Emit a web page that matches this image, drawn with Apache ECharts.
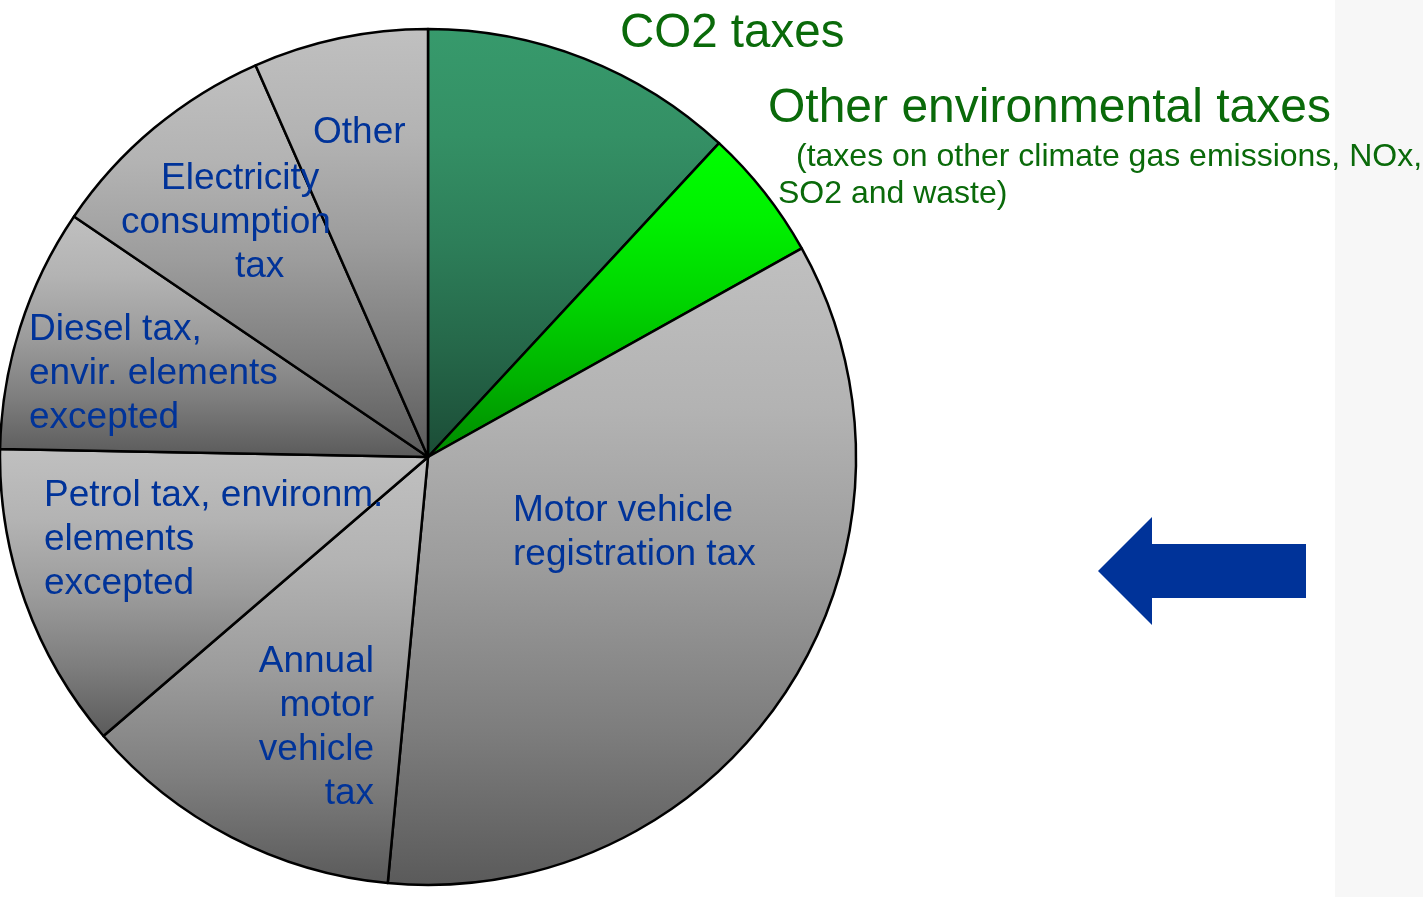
<!DOCTYPE html>
<html>
<head>
<meta charset="utf-8">
<title>Environmental and vehicle taxes</title>
<script src="https://cdn.jsdelivr.net/npm/echarts@6/dist/echarts.min.js"></script>
<style>
  html, body { margin: 0; padding: 0; background: #ffffff; }
  #chart { width: 1423px; height: 897px; }
</style>
</head>
<body>
<div id="chart"></div>
<script>
// Tax categories, clockwise from twelve o'clock
const categories = [
  'CO2 taxes',
  'Other environmental taxes',
  'Motor vehicle registration tax',
  'Annual motor vehicle tax',
  'Petrol tax, environm. elements excepted',
  'Diesel tax, envir. elements excepted',
  'Electricity consumption tax',
  'Other'
];
// Share of total revenue, per cent
const shares = [11.9, 5.0, 34.6, 12.2, 11.6, 9.2, 8.9, 6.6];
// Text shown for each slice
const labelTexts = [
  '{t|CO2 taxes}',
  '{t|Other environmental taxes}\n{s1|(taxes on other climate gas emissions, NOx,}\n{s2|SO2 and waste)}',
  'Motor vehicle\nregistration tax',
  'Annual\nmotor\nvehicle\ntax',
  'Petrol tax, environm.\nelements\nexcepted',
  'Diesel tax,\nenvir. elements\nexcepted',
  '{a|Electricity}\n{b|consumption}\n{c|tax}',
  'Other'
];

const FONT = '"Liberation Sans", Arial, Helvetica, sans-serif';
const BLUE = '#003399';
const GREEN_TEXT = '#0a6a0a';

// Label anchors (pixels) and alignment
const labelPlacement = [
  { x: 620, y: 34,  align: 'left',  v: 'middle' },
  { x: 768, y: 79,  align: 'left',  v: 'top' },
  { x: 513, y: 533, align: 'left',  v: 'middle' },
  { x: 374, y: 728, align: 'right', v: 'middle' },
  { x: 44,  y: 540, align: 'left',  v: 'middle' },
  { x: 29,  y: 374, align: 'left',  v: 'middle' },
  { x: 121, y: 223, align: 'left',  v: 'middle' },
  { x: 313, y: 133, align: 'left',  v: 'middle' }
];

function vgrad(stops) {
  return {
    type: 'linear', x: 0, y: 0, x2: 0, y2: 1,
    colorStops: stops.map(function (s) { return { offset: s[0], color: s[1] }; })
  };
}
const grayFill = [[0, '#c0c0c0'], [0.25, '#b3b3b3'], [0.5, '#9c9c9c'], [0.75, '#7e7e7e'], [1, '#5a5a5a']];
const co2Fill = [[0, '#379a6c'], [0.25, '#349065'], [0.5, '#2d7e59'], [0.75, '#256749'], [1, '#1b4c36']];
const envFill = [[0, '#00ff00'], [0.25, '#00f000'], [0.5, '#00d500'], [0.75, '#00b200'], [1, '#008800']];
const fills = [co2Fill, envFill, grayFill, grayFill, grayFill, grayFill, grayFill, grayFill];

const bodyText = { fontFamily: FONT, fontSize: 37, lineHeight: 44, color: BLUE };

const pieData = categories.map(function (name, i) {
  const label = {
    show: true,
    position: 'inside',
    formatter: labelTexts[i],
    fontFamily: FONT,
    fontSize: 37,
    lineHeight: 44,
    color: BLUE
  };
  if (i === 0) {
    label.rich = { t: { fontFamily: FONT, fontSize: 47.5, lineHeight: 56, color: GREEN_TEXT } };
  } else if (i === 1) {
    label.rich = {
      t: { fontFamily: FONT, fontSize: 48, lineHeight: 60, color: GREEN_TEXT },
      s1: { fontFamily: FONT, fontSize: 32, lineHeight: 37, color: GREEN_TEXT, padding: [0, 0, 0, 28] },
      s2: { fontFamily: FONT, fontSize: 32, lineHeight: 37, color: GREEN_TEXT, padding: [0, 0, 0, 10] }
    };
  } else if (i === 6) {
    label.rich = {
      a: Object.assign({ padding: [0, 0, 0, 40] }, bodyText),
      b: Object.assign({}, bodyText),
      c: Object.assign({ padding: [0, 0, 0, 114] }, bodyText)
    };
  }
  return {
    name: name,
    value: shares[i],
    itemStyle: { color: vgrad(fills[i]) },
    label: label
  };
});

const chart = echarts.init(document.getElementById('chart'), null, { renderer: 'canvas' });

chart.setOption({
  backgroundColor: '#ffffff',
  animation: false,
  graphic: [
    {
      type: 'rect',
      z: -10,
      shape: { x: 1335, y: 0, width: 88, height: 897 },
      style: { fill: '#f7f7f7' },
      silent: true
    },
    {
      type: 'polygon',
      shape: {
        points: [[1098, 571], [1152, 517], [1152, 544], [1306, 544], [1306, 598], [1152, 598], [1152, 625]]
      },
      style: { fill: '#003399' },
      silent: true
    }
  ],
  series: [
    {
      type: 'pie',
      center: [428, 457],
      radius: [0, 428],
      startAngle: 90,
      clockwise: true,
      avoidLabelOverlap: false,
      silent: true,
      emphasis: { disabled: true },
      itemStyle: { borderColor: '#000000', borderWidth: 2.5 },
      labelLine: { show: false },
      labelLayout: function (params) {
        const p = labelPlacement[params.dataIndex];
        return { x: p.x, y: p.y, align: p.align, verticalAlign: p.v };
      },
      data: pieData
    }
  ]
});
</script>
</body>
</html>
